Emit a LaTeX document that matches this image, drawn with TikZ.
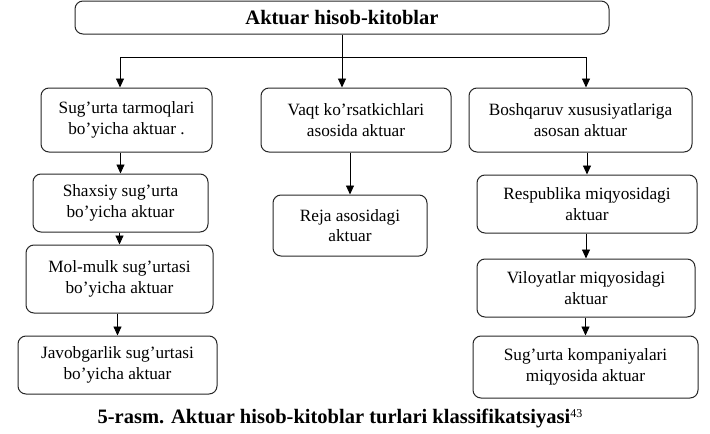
\documentclass[tikz,border=0pt]{standalone}
\usepackage{fontspec}
\setmainfont{Liberation Serif}
\usetikzlibrary{arrows.meta}
\begin{document}
\begin{tikzpicture}[x=1pt,y=-1pt,
  box/.style={draw=black!85, line width=1pt, rounded corners=8pt, align=center, inner sep=0pt, font=\fontsize{17.25}{20.5}\selectfont},
  arr/.style={-{Triangle[length=9pt,width=8pt]}, line width=0.9pt},
  ln/.style={line width=0.9pt}]
\useasboundingbox (0,0) rectangle (710,434);
\node[box, minimum width=534pt, minimum height=33pt, font=\bfseries\fontsize{20.5}{22}\selectfont] (top) at (342,17.5) {Aktuar hisob-kitoblar};
\node[box, minimum width=171pt, minimum height=64pt] (l1) at (126.5,120) {Sug’urta tarmoqlari\\bo’yicha aktuar .};
\node[box, minimum width=190pt, minimum height=64pt] (m1) at (356,120) {Vaqt ko’rsatkichlari\\asosida aktuar};
\node[box, minimum width=223pt, minimum height=64pt] (r1) at (580.5,120) {Boshqaruv xususiyatlariga\\asosan aktuar};
\node[box, minimum width=175pt, minimum height=58pt] (l2) at (120.5,203) {Shaxsiy sug’urta\\bo’yicha aktuar};
\node[box, minimum width=187pt, minimum height=68pt] (l3) at (119.5,279) {Mol-mulk sug’urtasi\\bo’yicha aktuar};
\node[box, minimum width=199pt, minimum height=58pt] (l4) at (117.5,365) {Javobgarlik sug’urtasi\\bo’yicha aktuar};
\node[box, minimum width=154pt, minimum height=61pt] (m2) at (350,225.5) {Reja asosidagi\\aktuar};
\node[box, minimum width=220pt, minimum height=58pt] (r2) at (587,204) {Respublika miqyosidagi\\aktuar};
\node[box, minimum width=218pt, minimum height=58pt] (r3) at (586,288) {Viloyatlar miqyosidagi\\aktuar};
\node[box, minimum width=225pt, minimum height=62pt] (r4) at (585.5,367) {Sug’urta kompaniyalari\\miqyosida aktuar};
\node[font=\bfseries\fontsize{20.5}{22}\selectfont, inner sep=0pt] (cap) at (340,418) {5-rasm. Aktuar hisob-kitoblar turlari klassifikatsiyasi\raisebox{0.55ex}{\mdseries\fontsize{12}{12}\selectfont 43}};
\coordinate (j) at (342,57);
\draw[ln] (top.south) -- (j);
\draw[arr] (j) -| ([xshift=-6.5pt]l1.north);
\draw[arr] (j) -| ([xshift=5.5pt]r1.north);
\draw[arr] (top.south) -- (top.south |- m1.north);
\draw[arr] (l1.south -| l2.north) -- (l2.north);
\draw[arr] (l2.south -| l3.north) -- (l3.north);
\draw[arr] (l3.south -| l4.north) -- (l4.north);
\draw[arr] (m1.south -| m2.north) -- (m2.north);
\draw[arr] (r1.south -| r2.north) -- (r2.north);
\draw[arr] (r2.south -| r3.north) -- (r3.north);
\draw[arr] (r3.south -| r4.north) -- (r4.north);
\end{tikzpicture}
\end{document}
